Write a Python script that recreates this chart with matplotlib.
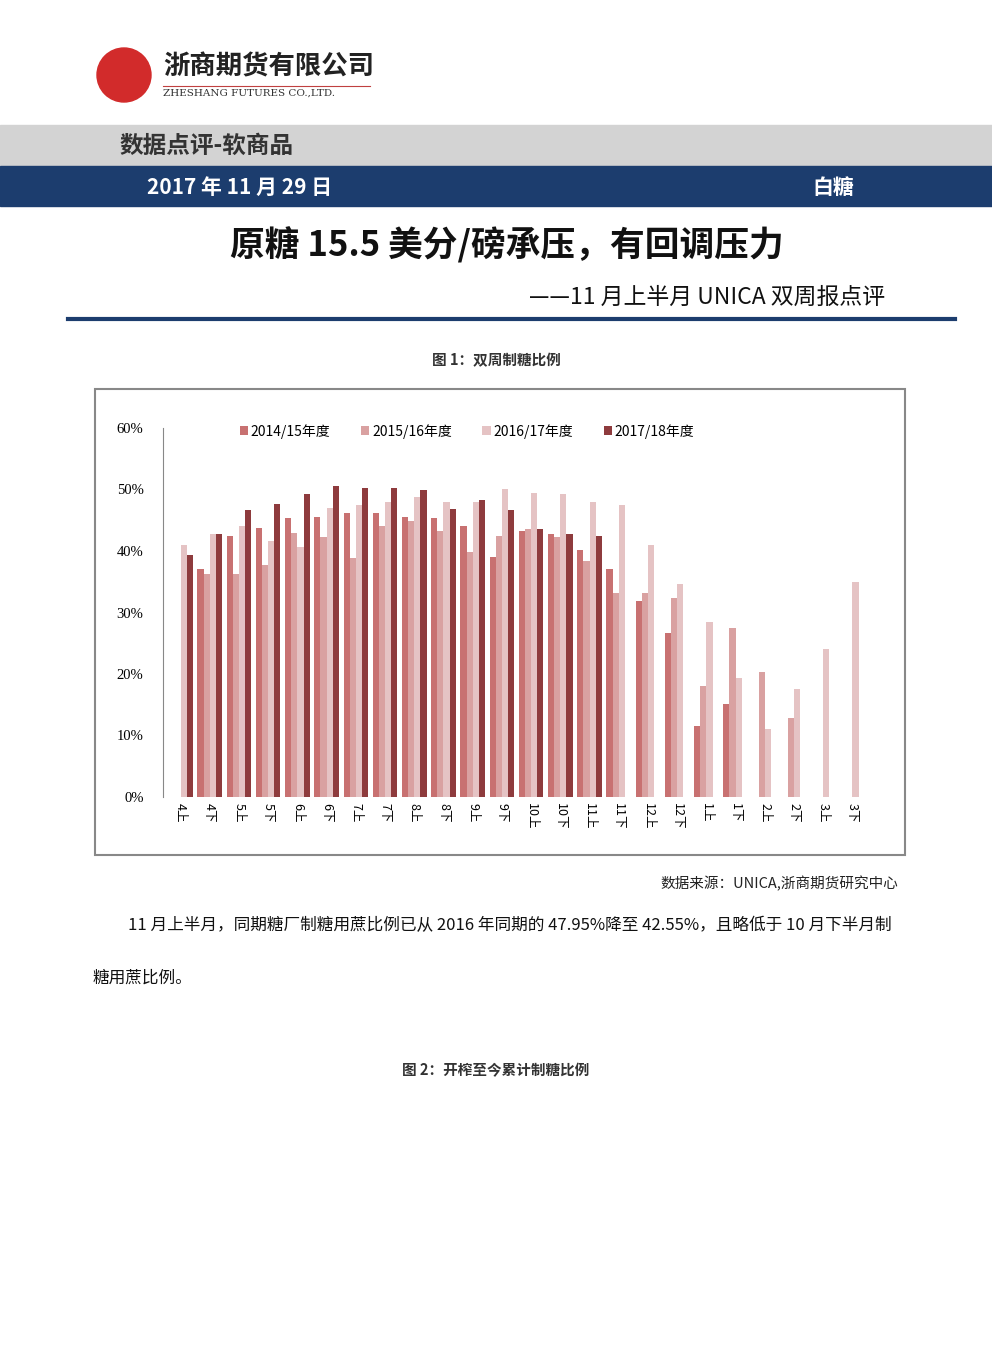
import numpy as np
import matplotlib
matplotlib.use('Agg')
import matplotlib.pyplot as plt
from matplotlib.patches import Rectangle, Circle

plt.rcParams['font.family'] = ['Noto Sans CJK SC', 'DejaVu Sans']

cats = ['4上', '4下', '5上', '5下', '6上', '6下', '7上', '7下', '8上', '8下', '9上', '9下',
        '10上', '10下', '11上', '11下', '12上', '12下', '1上', '1下', '2上', '2下', '3上', '3下']
n = np.nan
s1415 = [n, 37.0, 42.5, 43.8, 45.4, 45.6, 46.2, 46.1, 45.6, 45.3, 44.0, 39.1,
         43.2, 42.8, 40.2, 37.0, 31.8, 26.7, 11.5, 15.1, n, n, n, n]
s1516 = [n, 36.3, 36.3, 37.8, 43.0, 42.2, 38.9, 44.0, 44.8, 43.2, 39.9, 42.5,
         43.5, 42.2, 38.3, 33.1, 33.2, 32.3, 18.1, 27.4, 20.4, 12.9, n, n]
s1617 = [40.9, 42.8, 44.0, 41.7, 40.7, 47.0, 47.5, 48.0, 48.7, 47.9, 48.0, 50.1,
         49.5, 49.3, 48.0, 47.4, 40.9, 34.7, 28.5, 19.4, 11.0, 17.5, 24.0, 35.0]
s1718 = [39.3, 42.8, 46.7, 47.7, 49.3, 50.5, 50.3, 50.3, 50.0, 46.9, 48.3, 46.6,
         43.6, 42.8, 42.5, n, n, n, n, n, n, n, n, n]
series = [('2014/15年度', s1415, '#C87171'), ('2015/16年度', s1516, '#D9A1A1'),
          ('2016/17年度', s1617, '#E5C3C4'), ('2017/18年度', s1718, '#8E3B3D')]

W, H = 992, 1346
fig = plt.figure(figsize=(W / 100, H / 100), dpi=100)
bg = fig.add_axes([0, 0, 1, 1])
bg.set_xlim(0, W)
bg.set_ylim(H, 0)
bg.axis('off')

# header
bg.add_patch(Circle((124, 75), 27, color='#D22B2B'))
bg.text(163, 67, '浙商期货有限公司', fontsize=19, fontweight='bold', color='#222222', va='center')
bg.plot([163, 370], [86, 86], color='#C04040', lw=0.8)
bg.text(163, 93, 'ZHESHANG FUTURES CO.,LTD.', fontsize=7.5, family='DejaVu Serif', color='#333333', va='center')
bg.add_patch(Rectangle((0, 125), W, 40, color='#D3D3D3'))
bg.text(120, 146, '数据点评-软商品', fontsize=17, fontweight='bold', color='#333333', va='center')
bg.add_patch(Rectangle((0, 166), W, 40, color='#1C3D6E'))
bg.text(147, 187, '2017 年 11 月 29 日', fontsize=15, fontweight='bold', color='white', va='center')
bg.text(812, 187, '白糖', fontsize=15, fontweight='bold', color='white', va='center')
bg.text(507, 245, '原糖 15.5 美分/磅承压，有回调压力', fontsize=25, fontweight='bold', color='#111111',
        ha='center', va='center')
bg.text(885, 297, '——11 月上半月 UNICA 双周报点评', fontsize=16.5, color='#111111', ha='right', va='center')
bg.plot([68, 955], [319, 319], color='#1C3D6E', lw=3)
bg.text(496, 360, '图 1：双周制糖比例', fontsize=10.5, fontweight='bold', color='#333333', ha='center', va='center')
bg.add_patch(Rectangle((95, 389), 810, 466, fill=False, ec='#888888', lw=1.5))
bg.text(898, 884, '数据来源：UNICA,浙商期货研究中心', fontsize=10.5, color='#222222', ha='right', va='center')
bg.text(128, 926, '11 月上半月，同期糖厂制糖用蔗比例已从 2016 年同期的 47.95%降至 42.55%，且略低于 10 月下半月制',
        fontsize=12, color='#111111', va='center')
bg.text(93, 978, '糖用蔗比例。', fontsize=12, color='#111111', va='center')
bg.text(496, 1070, '图 2：开榨至今累计制糖比例', fontsize=10.5, fontweight='bold', color='#333333', ha='center', va='center')

# chart
ax = fig.add_axes([163 / W, 1 - 797 / H, (870 - 163) / W, (797 - 428) / H])
x = np.arange(len(cats))
bw = 0.21
for i, (name, vals, col) in enumerate(series):
    ax.bar(x + (i - 1.5) * bw, vals, bw, color=col, label=name)
ax.set_ylim(0, 60)
ax.set_xlim(-0.6, len(cats) - 0.4)
ax.set_yticks(range(0, 61, 10))
ax.set_yticklabels([f'{v}%' for v in range(0, 61, 10)], fontsize=10.5, family='Liberation Serif')
ax.set_xticks(x)
ax.set_xticklabels(cats, rotation=-90, fontsize=9)
for sp in ['top', 'right', 'bottom']:
    ax.spines[sp].set_visible(False)
ax.spines['left'].set_color('#888888')
ax.tick_params(length=0, pad=14)
ax.tick_params(axis='x', pad=4)
ax.legend(loc='upper center', bbox_to_anchor=(0.43, 1.045), ncol=4, frameon=False, fontsize=10,
          handlelength=0.6, handleheight=0.6, handletextpad=0.2, columnspacing=2.2)

fig.savefig('out.png', dpi=100)
